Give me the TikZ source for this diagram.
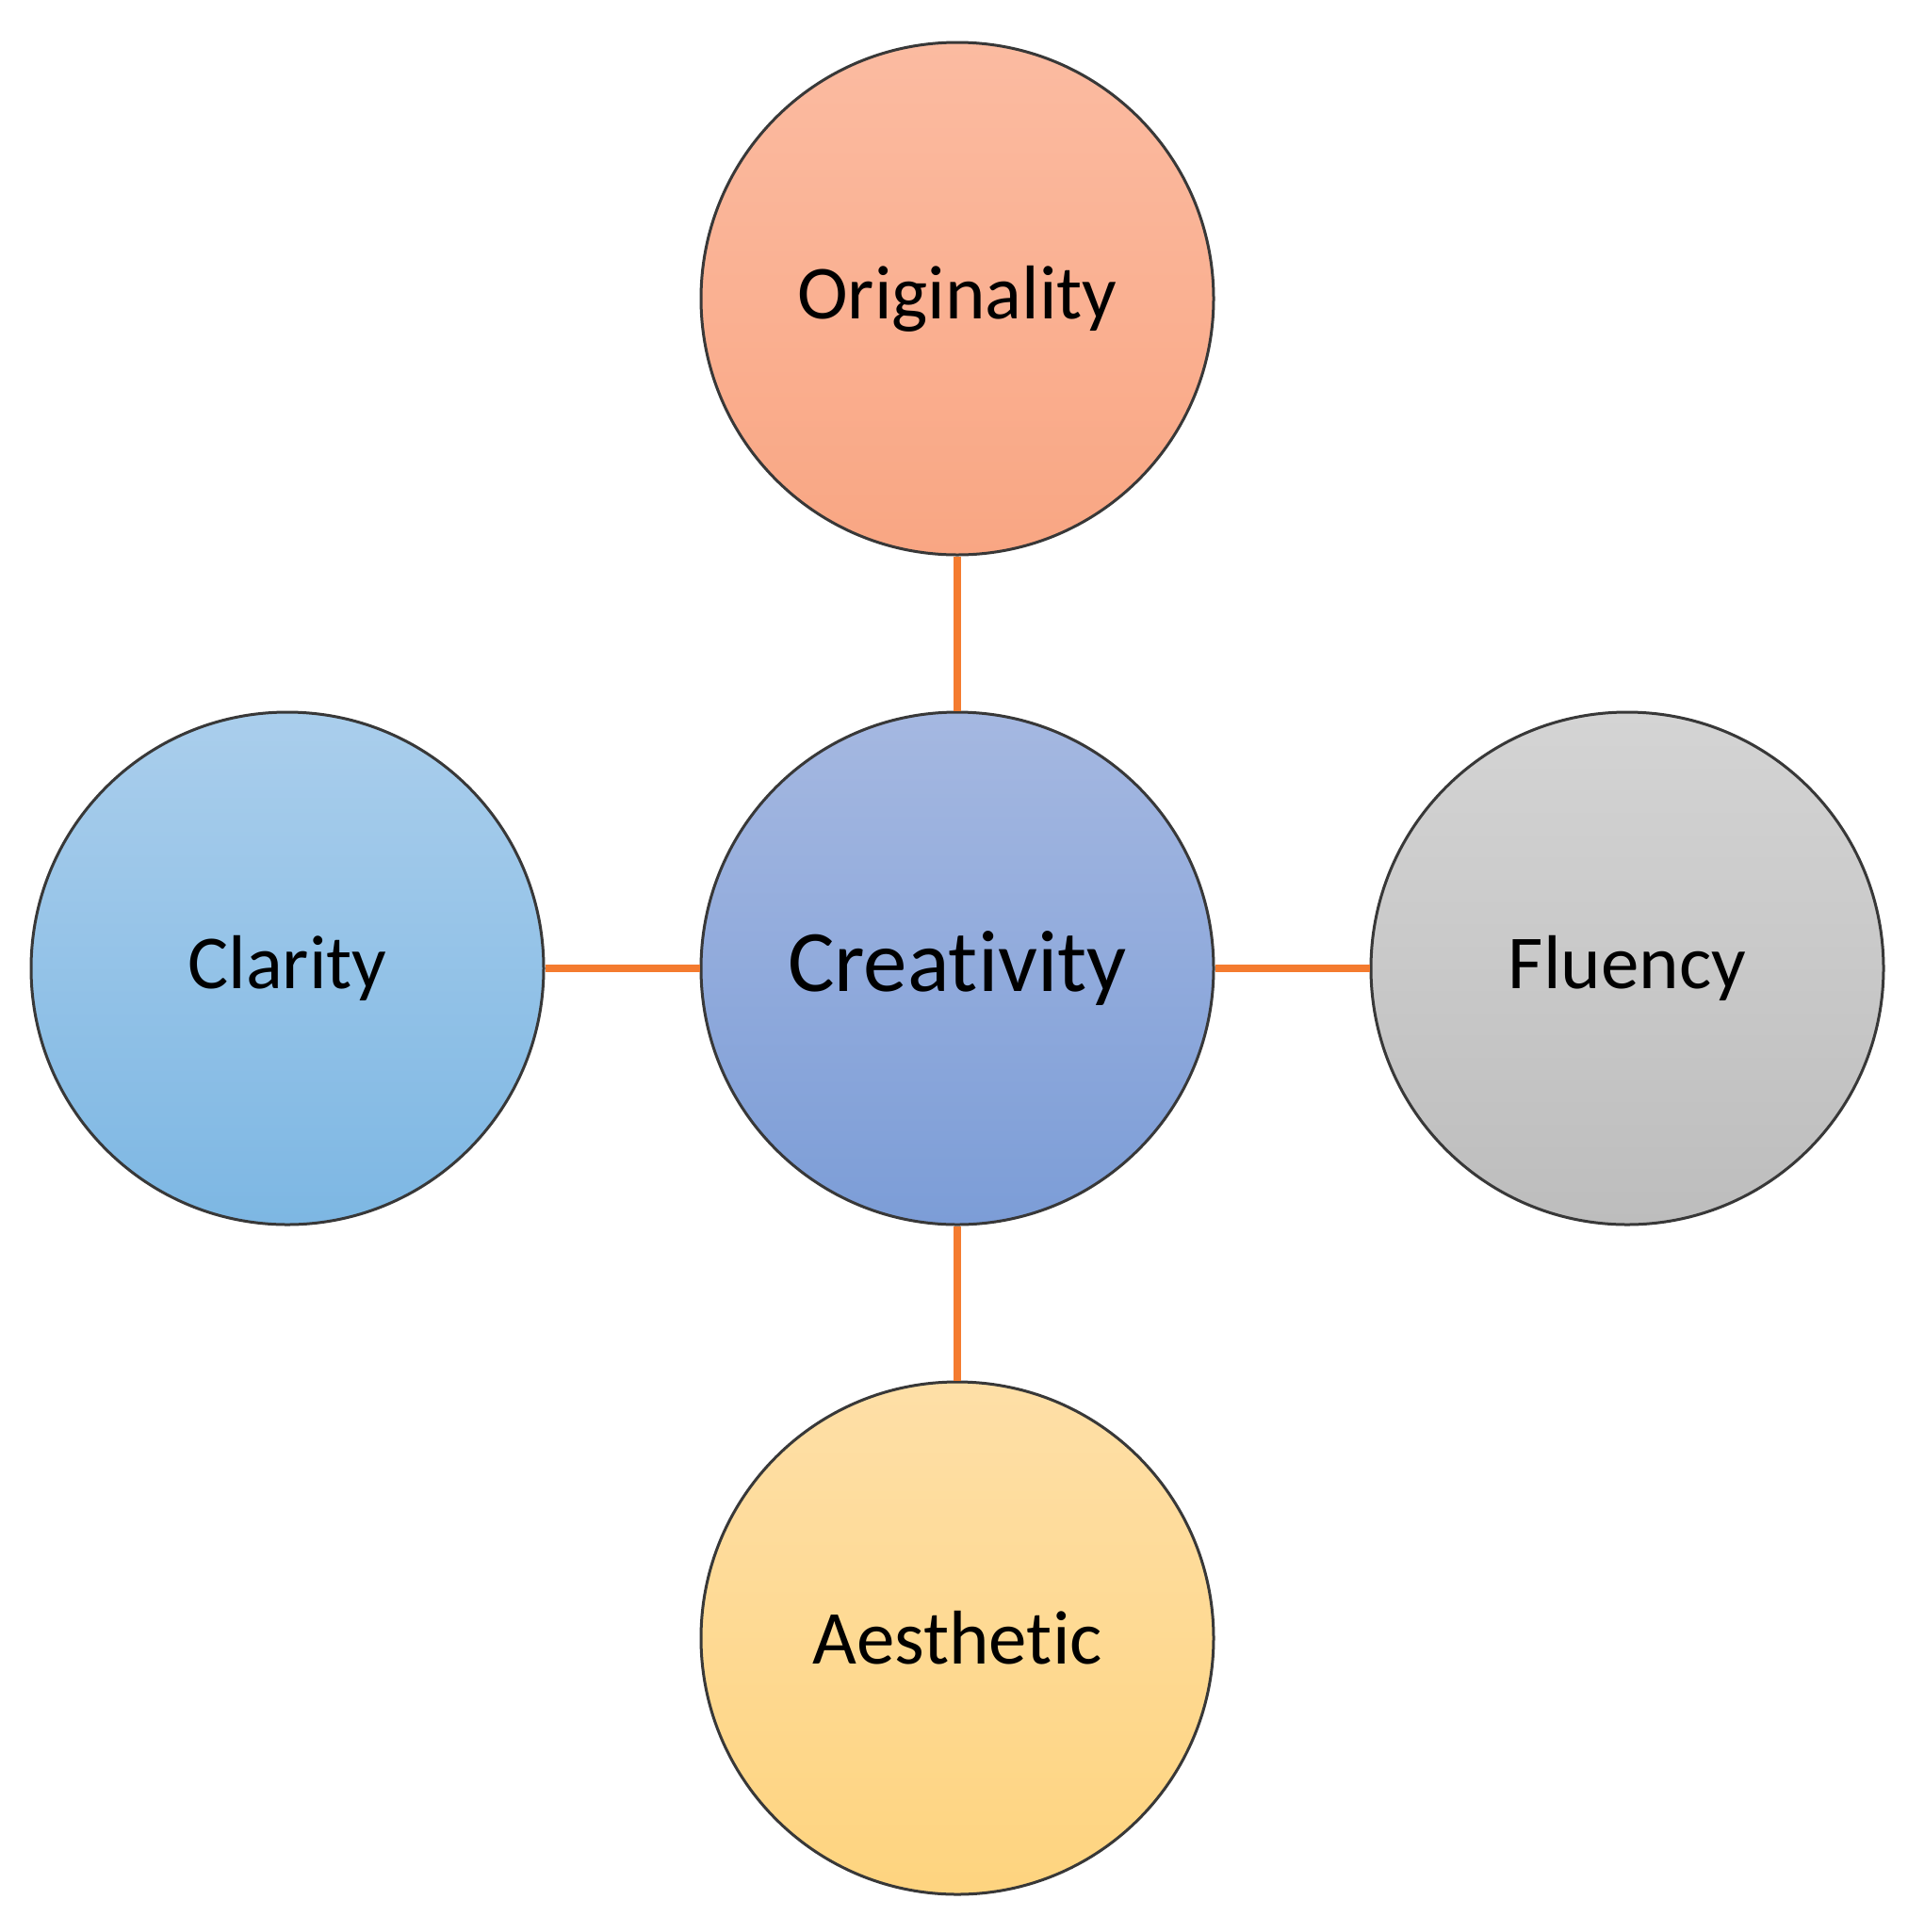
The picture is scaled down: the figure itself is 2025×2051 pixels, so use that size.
\documentclass[tikz,border=0pt]{standalone}
\usepackage{fontspec}
\setmainfont[Ligatures=NoCommon]{Carlito}
\definecolor{orgTop}{HTML}{FBBBA1}
\definecolor{orgBot}{HTML}{F9A683}
\definecolor{creTop}{HTML}{A5B8E1}
\definecolor{creBot}{HTML}{7C9DD7}
\definecolor{claTop}{HTML}{AACEEC}
\definecolor{claBot}{HTML}{7DB7E3}
\definecolor{fluTop}{HTML}{D4D4D4}
\definecolor{fluBot}{HTML}{BDBDBD}
\definecolor{aesTop}{HTML}{FEDFA7}
\definecolor{aesBot}{HTML}{FED47F}
\definecolor{linkOrange}{HTML}{F47B2F}
\definecolor{rimGray}{HTML}{383838}
\tikzset{
  bubble/.style={circle, minimum size=544pt, inner sep=0pt, draw=rimGray, line width=3pt,
    font=\fontsize{81}{97}\selectfont, text=black},
  link/.style={draw=linkOrange, line width=8pt}
}
\begin{document}
\begin{tikzpicture}[x=1pt,y=-1pt]
\useasboundingbox (0,0) rectangle (2025,2051);
\fill[white] (0,0) rectangle (2025,2051);
\node[bubble, top color=orgTop, bottom color=orgBot] (orig) at (1016,317) {Originality};
\node[bubble, top color=creTop, bottom color=creBot, font=\fontsize{93}{112}\selectfont] (crea) at (1016,1028) {Creativity};
\node[bubble, top color=claTop, bottom color=claBot] (clar) at (305,1028) {Clarity};
\node[bubble, top color=fluTop, bottom color=fluBot] (flue) at (1727,1028) {Fluency};
\node[bubble, top color=aesTop, bottom color=aesBot] (aest) at (1016,1739) {Aesthetic};
\draw[link] (orig.south) -- (crea.north);
\draw[link] (crea.south) -- (aest.north);
\draw[link] (clar.east) -- (crea.west);
\draw[link] (crea.east) -- (flue.west);
\end{tikzpicture}
\end{document}
